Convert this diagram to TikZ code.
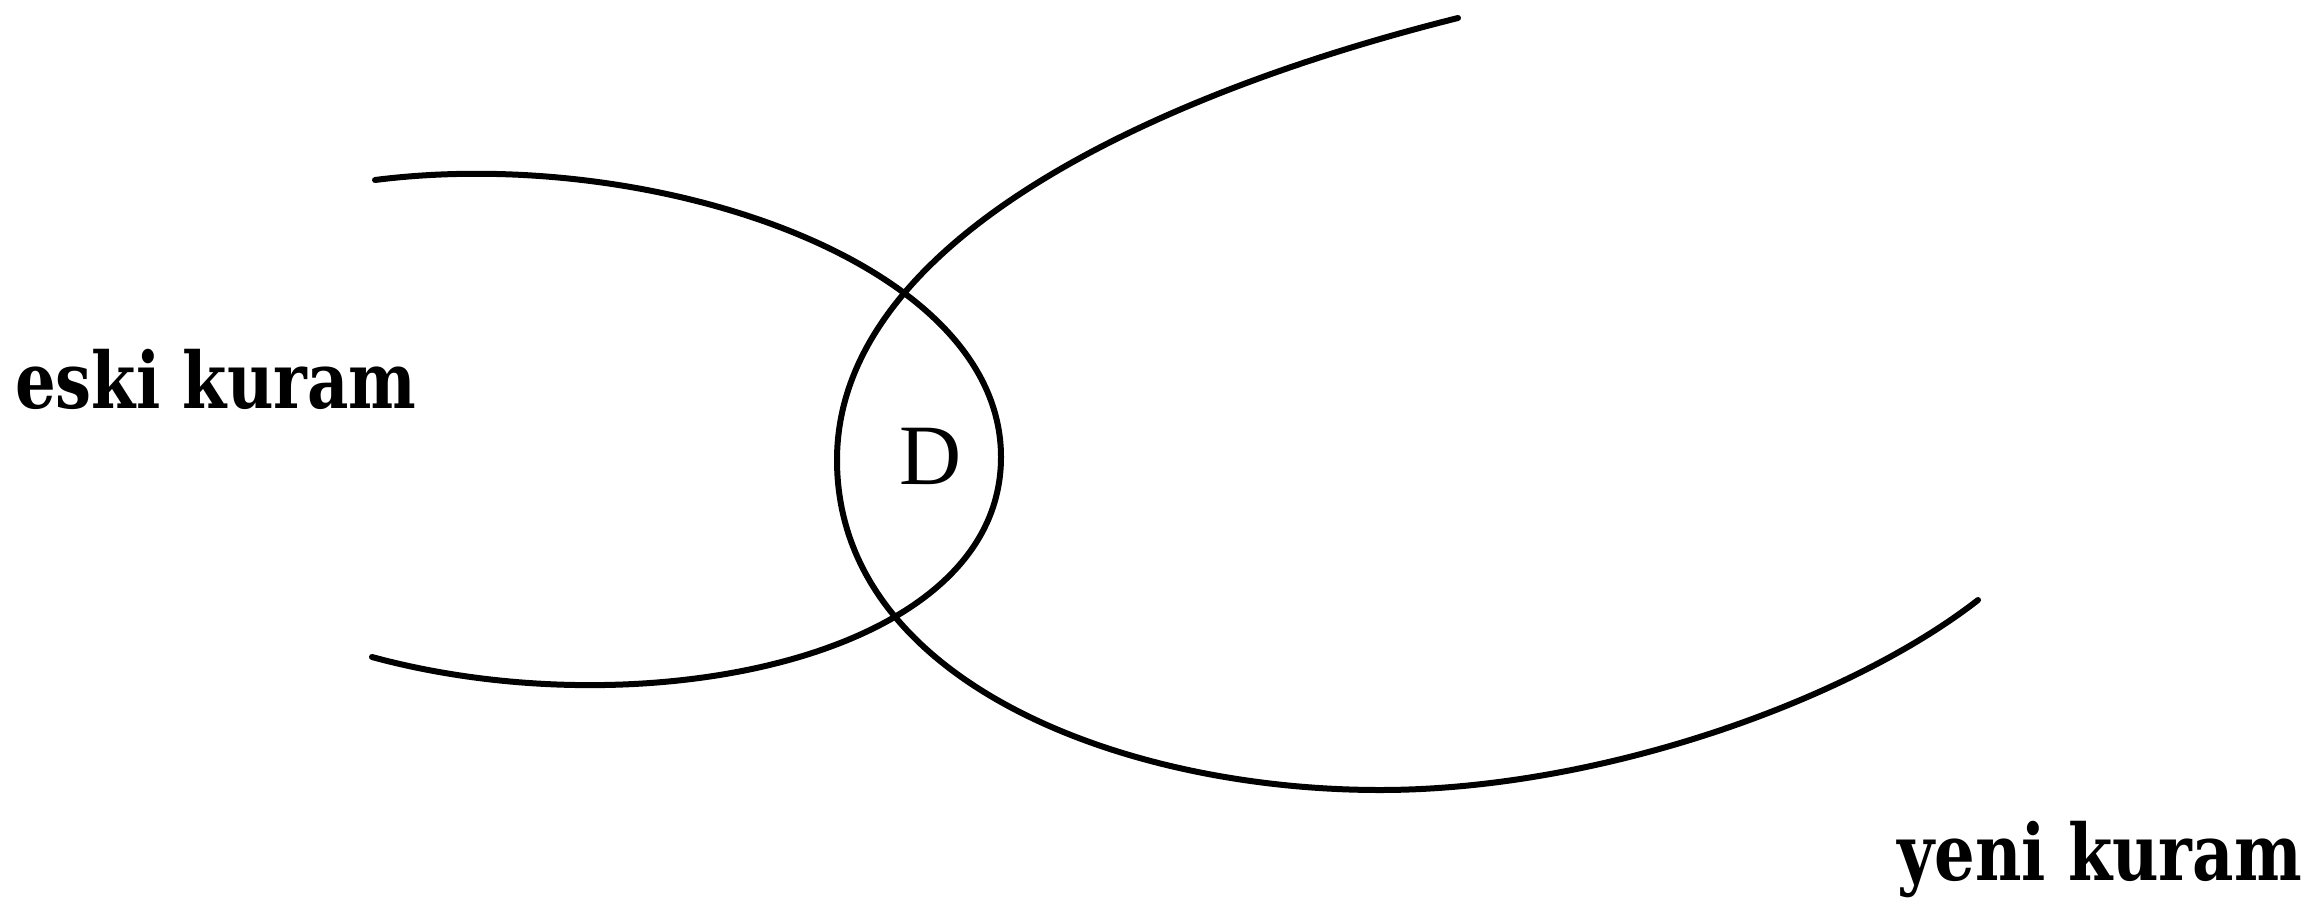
\documentclass[tikz,border=0pt]{standalone}
\usepackage{fontspec}
\usepackage{graphicx}
\newfontfamily\labelfont{DejaVu Serif}
\newfontfamily\dfont{Liberation Serif}
\tikzset{
  curve/.style={line width=6pt, line cap=round, line join=round},
  theorylabel/.style={inner sep=0pt, anchor=base west, font=\labelfont\bfseries\fontsize{78}{84}\selectfont},
  regionlabel/.style={inner sep=0pt, font=\dfont\fontsize{86}{90}\selectfont}
}
\begin{document}
\begin{tikzpicture}[x=1pt,y=-1pt]
\useasboundingbox (0,0) rectangle (2310,911);
% old theory curve (opens left)
\coordinate (oldS) at (375,180);
\coordinate (oldT) at (1001,457);
\coordinate (oldE) at (372,657);
\draw[curve] (oldS) .. controls (650,145) and (1001,260) .. (oldT)
                    .. controls (1001,660) and (640,730) .. (oldE);
% new theory curve (opens right)
\coordinate (newS) at (1458,18);
\coordinate (newT) at (837,460);
\coordinate (newB) at (1380,790);
\coordinate (newE) at (1978,600);
\draw[curve] (newS) .. controls (1130,100) and (837,250) .. (newT)
                    .. controls (837,680) and (1120,790) .. (newB)
                    .. controls (1600,790) and (1850,700) .. (newE);
\node[theorylabel] (eski) at (15,408) {\scalebox{0.82}[1]{eski kuram}};
\node[theorylabel] (yeni) at (1897,880) {\scalebox{0.82}[1]{yeni kuram}};
\node[regionlabel] (D) at (931,456) {D};
\end{tikzpicture}
\end{document}
